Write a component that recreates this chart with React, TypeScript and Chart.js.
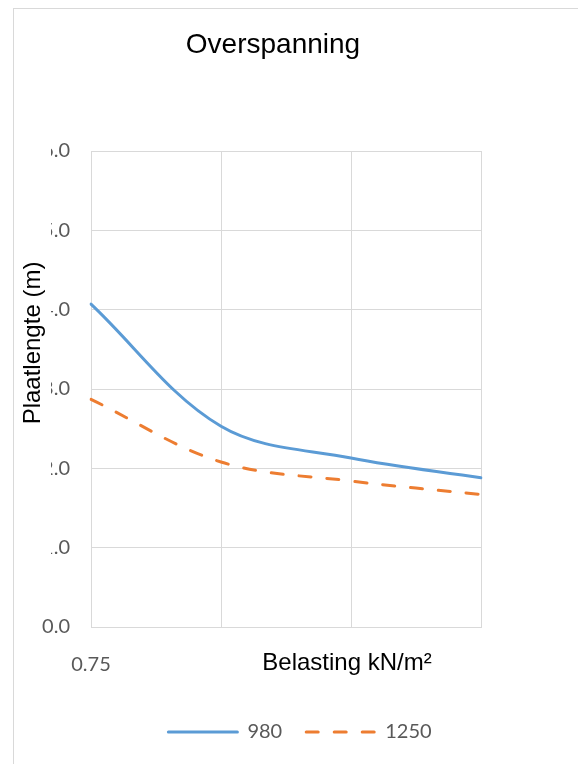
import React, { useEffect, useRef } from 'react';
import { Chart, registerables } from 'chart.js';

Chart.register(...registerables);

// ---- data ----
const categories: string[] = ['0.75', '', '', ''];
const seriesNames: string[] = ['980', '1250'];
const values980: number[] = [4.07, 2.53, 2.13, 1.88];
const values1250: number[] = [2.87, 2.08, 1.84, 1.67];
const yMin = 0;
const yMax = 6;
const yStep = 1;
const chartTitle = 'Overspanning';
const yAxisTitle = 'Plaatlengte (m)';
const xAxisTitle = 'Belasting kN/m²';

const BLUE = '#5B9BD5';
const ORANGE = '#ED7D31';
const GRID = '#d9d9d9';
const TICK = '#595959';
const SANS = '"Liberation Sans", Arial, sans-serif';
const LABEL_FONT = 'Lato, "Open Sans", sans-serif';

const decorPlugin = {
  id: 'decor',
  beforeDraw(chart: any) {
    const ctx = chart.ctx;
    ctx.save();
    ctx.fillStyle = '#ffffff';
    ctx.fillRect(0, 0, chart.width, chart.height);
    ctx.strokeStyle = GRID;
    ctx.lineWidth = 1;
    ctx.strokeRect(13.5, 8.5, 700, 900);
    ctx.restore();
  },
  afterDraw(chart: any) {
    const ctx = chart.ctx;
    const area = chart.chartArea;
    // chart title
    ctx.save();
    ctx.fillStyle = '#000000';
    ctx.font = `28px ${SANS}`;
    ctx.textAlign = 'center';
    ctx.textBaseline = 'middle';
    ctx.fillText(chartTitle, 273, 45);
    ctx.restore();

    // y axis title box (covers part of tick labels like the original)
    ctx.save();
    ctx.fillStyle = '#ffffff';
    ctx.fillRect(14, 135, 37, 460);
    ctx.translate(33, 343);
    ctx.rotate(-Math.PI / 2);
    ctx.fillStyle = '#000000';
    ctx.font = `24px ${SANS}`;
    ctx.textAlign = 'center';
    ctx.textBaseline = 'middle';
    ctx.fillText(yAxisTitle, 0, 0);
    ctx.restore();

    // x axis title box
    ctx.save();
    ctx.fillStyle = '#ffffff';
    ctx.fillRect(125, area.bottom + 20, 450, 34);
    ctx.fillStyle = '#000000';
    ctx.font = `24px ${SANS}`;
    ctx.textAlign = 'center';
    ctx.textBaseline = 'middle';
    ctx.fillText(xAxisTitle, 347, 663);
    ctx.restore();
  },
};

export default function App() {
  const canvasRef = useRef<HTMLCanvasElement | null>(null);

  useEffect(() => {
    const canvas = canvasRef.current;
    if (!canvas) return;
    const chart = new Chart(canvas, {
      type: 'line',
      data: {
        labels: categories,
        datasets: [
          {
            label: seriesNames[0],
            data: values980,
            borderColor: BLUE,
            backgroundColor: BLUE,
            borderWidth: 3,
            borderCapStyle: 'round',
            pointRadius: 0,
            tension: 0.35,
            fill: false,
          },
          {
            label: seriesNames[1],
            data: values1250,
            borderColor: ORANGE,
            backgroundColor: ORANGE,
            borderWidth: 3,
            borderDash: [12, 16],
            borderCapStyle: 'round',
            pointRadius: 0,
            tension: 0.35,
            fill: false,
          },
        ],
      },
      options: {
        responsive: false,
        animation: false,
        devicePixelRatio: 1,
        layout: { padding: { top: 151, left: 22, right: 0, bottom: 12 } },
        plugins: {
          title: { display: false },
          legend: {
            display: true,
            position: 'bottom',
            labels: {
              usePointStyle: true,
              pointStyleWidth: 69,
              padding: 24,
              color: TICK,
              font: { family: LABEL_FONT, size: 20 },
              generateLabels: (ch: any) =>
                ch.data.datasets.map((ds: any, i: number) => ({
                  text: ds.label,
                  fillStyle: ds.borderColor,
                  strokeStyle: ds.borderColor,
                  lineWidth: 3,
                  lineDash: ds.borderDash || [],
                  lineCap: 'round',
                  pointStyle: 'line',
                  hidden: false,
                  datasetIndex: i,
                  fontColor: TICK,
                })),
            },
          },
          tooltip: { enabled: false },
        },
        scales: {
          x: {
            grid: { color: GRID, lineWidth: 1, drawTicks: false, offset: false },
            border: { color: GRID },
            offset: false,
            ticks: {
              color: TICK,
              font: { family: LABEL_FONT, size: 20 },
              padding: 26,
              maxRotation: 0,
              autoSkip: false,
            },
            afterFit: (s: any) => {
              s.height = 71;
            },
          },
          y: {
            min: yMin,
            max: yMax,
            grid: { color: GRID, lineWidth: 1, drawTicks: false },
            border: { color: GRID },
            ticks: {
              stepSize: yStep,
              color: TICK,
              font: { family: LABEL_FONT, size: 20 },
              padding: 21,
              callback: (v: any) => Number(v).toFixed(1),
            },
            afterFit: (s: any) => {
              s.width = 69;
            },
          },
          yRight: {
            position: 'right',
            display: true,
            grid: { display: false, drawTicks: false },
            border: { display: false },
            ticks: { display: false },
            afterFit: (s: any) => {
              s.width = 97;
            },
          },
        },
      },
      plugins: [decorPlugin],
    } as any);
    return () => chart.destroy();
  }, []);

  return (
    <div style={{ position: 'fixed', left: 0, top: 0, width: 578, height: 764, overflow: 'hidden', background: '#fff' }}>
      <canvas ref={canvasRef} width={578} height={764} style={{ display: 'block', width: 578, height: 764 }} />
    </div>
  );
}
